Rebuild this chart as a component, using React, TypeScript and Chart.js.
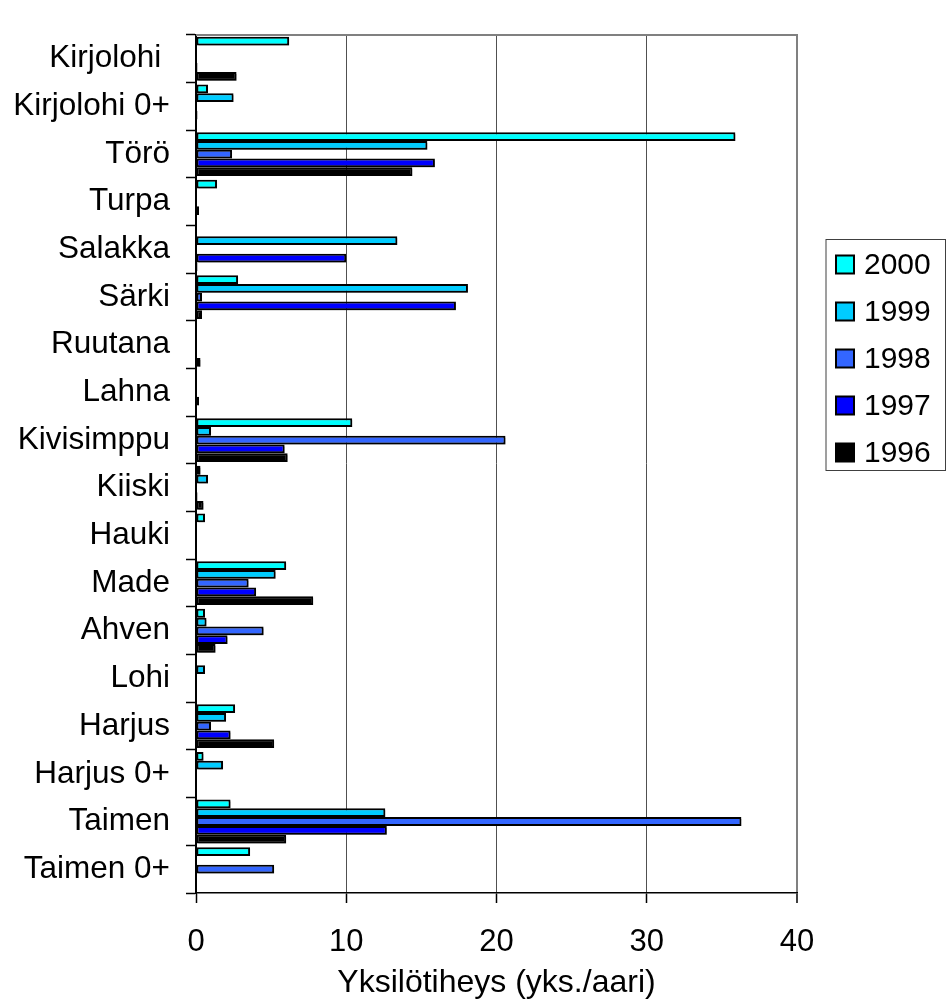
import React, { useEffect, useRef } from "react";
import { Chart, registerables } from "chart.js";

Chart.register(...registerables);

const categories = [
  "Kirjolohi ",
  "Kirjolohi 0+",
  "Törö",
  "Turpa",
  "Salakka",
  "Särki",
  "Ruutana",
  "Lahna",
  "Kivisimppu",
  "Kiiski",
  "Hauki",
  "Made",
  "Ahven",
  "Lohi",
  "Harjus",
  "Harjus 0+",
  "Taimen",
  "Taimen 0+",
];

const years = ["2000", "1999", "1998", "1997", "1996"];

const v2000 = [6.2, 0.8, 35.9, 1.4, null, 2.8, null, null, 10.4, 0.3, 0.6, 6.0, 0.6, null, 2.6, 0.5, 2.3, 3.6];
const v1999 = [null, 2.5, 15.4, null, 13.4, 18.1, null, null, 1.0, 0.8, null, 5.3, 0.7, 0.6, 2.0, 1.8, 12.6, null];
const v1998 = [null, null, 2.4, null, null, 0.4, null, null, 20.6, null, null, 3.5, 4.5, null, 1.0, null, 36.3, 5.2];
const v1997 = [0.1, 0.1, 15.9, 0.2, 10.0, 17.3, null, 0.2, 5.9, 0.1, null, 4.0, 2.1, null, 2.3, null, 12.7, null];
const v1996 = [2.7, null, 14.4, null, 0.1, 0.4, 0.3, null, 6.1, 0.5, null, 7.8, 1.3, null, 5.2, null, 6.0, null];

const seriesValues = [v2000, v1999, v1998, v1997, v1996];
const seriesColors = ["#00FFFF", "#00CCFF", "#3366FF", "#0000FF", "#000000"];

const xMin = 0;
const xMax = 40;
const xStep = 10;
const xTitle = "Yksilötiheys (yks./aari)";

const FONT = "'Liberation Sans', Arial, Helvetica, sans-serif";

const decorPlugin = {
  id: "decor",
  beforeDatasetsDraw(chart: any) {
    const ctx = chart.ctx;
    ctx.save();
    ctx.shadowColor = "rgba(0,0,0,0.35)";
    ctx.shadowOffsetX = 2;
    ctx.shadowOffsetY = 2;
    ctx.shadowBlur = 0;
  },
  afterDatasetsDraw(chart: any) {
    chart.ctx.restore();
  },
  afterDraw(chart: any) {
    const ctx = chart.ctx;
    const ca = chart.chartArea;
    ctx.save();
    // top frame line
    ctx.strokeStyle = "#808080";
    ctx.lineWidth = 2;
    ctx.beginPath();
    ctx.moveTo(ca.left, ca.top);
    ctx.lineTo(ca.right + 1, ca.top);
    ctx.stroke();

    // legend
    const boxL = 826;
    const boxT = 239.5;
    const boxR = 945.5;
    const boxB = 470.5;
    ctx.strokeStyle = "#404040";
    ctx.lineWidth = 1;
    ctx.strokeRect(boxL, boxT, boxR - boxL, boxB - boxT);
    const ds = chart.data.datasets;
    const firstY = 264.5;
    const stepY = 47;
    ctx.font = `30px ${FONT}`;
    ctx.textBaseline = "middle";
    ctx.textAlign = "left";
    ds.forEach((d: any, i: number) => {
      const cy = firstY + i * stepY;
      ctx.fillStyle = d.backgroundColor;
      ctx.fillRect(836, cy - 9, 18, 18);
      ctx.strokeStyle = "#000";
      ctx.lineWidth = 2;
      ctx.strokeRect(836, cy - 9, 18, 18);
      ctx.fillStyle = "#000";
      ctx.fillText(d.label, 864, cy + 1);
    });
    ctx.restore();
  },
};

export default function App() {
  const ref = useRef<HTMLCanvasElement | null>(null);

  useEffect(() => {
    if (!ref.current) return;
    const datasets = years.map((y, i) => ({
      label: y,
      data: seriesValues[i],
      backgroundColor: seriesColors[i],
      borderColor: "#000000",
      borderWidth: 2,
      borderSkipped: false,
      barPercentage: 1.0,
      categoryPercentage: 0.92,
    }));
    const chart = new Chart(ref.current, {
      type: "bar",
      data: { labels: categories, datasets },
      options: {
        indexAxis: "y",
        responsive: false,
        animation: false,
        devicePixelRatio: 1,
        layout: { padding: { top: 15, right: 149, left: 0, bottom: 0 } },
        plugins: {
          legend: { display: false },
          tooltip: { enabled: false },
        },
        scales: {
          x: {
            type: "linear",
            min: xMin,
            max: xMax,
            ticks: {
              stepSize: xStep,
              padding: 21,
              color: "#000",
              font: { size: 31, family: FONT },
            },
            grid: {
              color: (c: any) =>
                c.tick && c.tick.value === xMax
                  ? "#808080"
                  : c.tick && c.tick.value === xMin
                  ? "rgba(0,0,0,0)"
                  : "#505050",
              lineWidth: (c: any) => (c.tick && c.tick.value === xMax ? 2 : 1),
              tickColor: "#000",
              tickLength: 10,
              tickWidth: 1.5,
            },
            border: { color: "#000", width: 1.5 },
            title: {
              display: true,
              text: xTitle,
              color: "#000",
              font: { size: 32, family: FONT, lineHeight: 1 },
              padding: { top: 0, bottom: 0 },
            },
            afterFit: (s: any) => {
              s.height = 106;
            },
          },
          y: {
            type: "category",
            ticks: {
              padding: 16,
              color: "#000",
              autoSkip: false,
              font: { size: 31.5, family: FONT },
            },
            grid: {
              drawOnChartArea: false,
              offset: true,
              tickLength: 10,
              tickColor: "#000",
              tickWidth: 1.5,
            },
            border: { color: "#000", width: 2 },
            afterFit: (s: any) => {
              s.width = 196;
            },
          },
        },
      } as any,
      plugins: [decorPlugin],
    });
    return () => chart.destroy();
  }, []);

  return (
    <div style={{ position: "absolute", left: 0, top: 0, width: 946, height: 999, background: "#fff" }}>
      <canvas ref={ref} width={946} height={999} style={{ display: "block" }} />
    </div>
  );
}
